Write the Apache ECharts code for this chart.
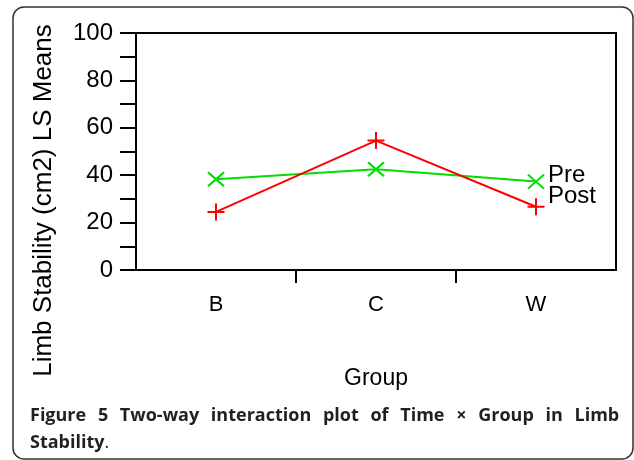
<!DOCTYPE html>
<html>
<head>
<meta charset="utf-8">
<script src="https://cdn.jsdelivr.net/npm/echarts@6/dist/echarts.min.js"></script>
<style>
  html, body { margin: 0; padding: 0; background: #fff; }
  #chart { width: 634px; height: 460px; }
</style>
</head>
<body>
<div id="chart"></div>
<script>
  // values
  const groups = ['B', 'C', 'W'];
  const preMeans = [38.3, 42.5, 37.3];
  const postMeans = [24.5, 54.6, 26.7];
  const yTicks = [0, 20, 40, 60, 80, 100];
  const groupBounds = [1, 2]; // tick marks between groups

  const axisFont = 'Liberation Sans, Arial, sans-serif';
  const plusSymbol = 'path://M5,0L5,10M0,5L10,5';
  const crossSymbol = 'path://M0,0L10,10M10,0L0,10';

  // caption, first line is justified in the source so each word gets a little extra room
  const captionWords = ['Figure', '5', 'Two-way', 'interaction', 'plot', 'of', 'Time', '×', 'Group', 'in', 'Limb'];
  const captionLine1 = captionWords.map((w, i) => (i < captionWords.length - 1 ? '{g|' : '{b|') + w + '}').join(' ');

  const capStyle = { fontFamily: 'Open Sans', fontWeight: 'bold', fontSize: 18, color: '#231f20', lineHeight: 27 };

  const chart = echarts.init(document.getElementById('chart'));
  chart.setOption({
    animation: false,
    backgroundColor: '#fff',
    title: {
      left: 30,
      top: 402,
      padding: 0,
      text: captionLine1 + '\n{b|Stability}{n|.}',
      textStyle: {
        rich: {
          b: capStyle,
          g: Object.assign({}, capStyle, { padding: [0, 6.7, 0, 0] }),
          n: Object.assign({}, capStyle, { fontWeight: 'normal' })
        }
      }
    },
    graphic: [{
      type: 'rect',
      silent: true,
      shape: { x: 13, y: 7, width: 620, height: 452, r: 11 },
      style: { fill: 'none', stroke: '#333', lineWidth: 1.5 }
    }],
    grid: {
      left: 136,
      right: 18,
      top: 33,
      bottom: 190,
      show: true,
      borderColor: '#000',
      borderWidth: 2,
      backgroundColor: 'transparent'
    },
    xAxis: [{
      type: 'category',
      data: groups,
      position: 'bottom',
      boundaryGap: true,
      axisLine: { lineStyle: { color: '#000', width: 2 } },
      axisTick: { show: false },
      axisLabel: { margin: 24, fontFamily: axisFont, fontSize: 22, color: '#000' },
      name: 'Group',
      nameLocation: 'middle',
      nameGap: 97,
      nameTextStyle: { fontFamily: axisFont, fontSize: 23, color: '#000' }
    }, {
      type: 'value',
      min: 0,
      max: groups.length,
      position: 'bottom',
      axisLine: { show: false },
      axisLabel: { show: false },
      splitLine: { show: false },
      axisTick: {
        show: true,
        customValues: groupBounds,
        length: 13,
        lineStyle: { color: '#000', width: 2 }
      }
    }],
    yAxis: {
      type: 'value',
      min: 0,
      max: 100,
      interval: 20,
      axisLine: { show: true, lineStyle: { color: '#000', width: 2 } },
      axisTick: { show: true, length: 16, lineStyle: { color: '#000', width: 2 } },
      minorTick: { show: true, splitNumber: 2, length: 16, lineStyle: { color: '#000', width: 2 } },
      splitLine: { show: false },
      axisLabel: {
        margin: 23,
        fontFamily: axisFont,
        fontSize: 24,
        color: '#000',
        customValues: yTicks
      },
      name: 'Limb Stability (cm2) LS Means',
      nameLocation: 'middle',
      nameGap: 79,
      nameTextStyle: {
        fontFamily: axisFont,
        fontSize: 26,
        color: '#000',
        padding: [0, 98, 0, 0]
      }
    },
    series: [{
      name: 'Pre',
      type: 'line',
      data: preMeans,
      symbol: crossSymbol,
      symbolSize: [16, 14],
      lineStyle: { color: '#00dd00', width: 2 },
      itemStyle: { color: 'transparent', borderColor: '#00dd00', borderWidth: 2 },
      endLabel: {
        show: true,
        formatter: 'Pre',
        distance: 12,
        offset: [0, -6],
        fontFamily: axisFont,
        fontSize: 24,
        color: '#000'
      },
      silent: true
    }, {
      name: 'Post',
      type: 'line',
      data: postMeans,
      symbol: plusSymbol,
      symbolSize: 17,
      lineStyle: { color: '#ff0000', width: 2 },
      itemStyle: { color: 'transparent', borderColor: '#ff0000', borderWidth: 2 },
      endLabel: {
        show: true,
        formatter: 'Post',
        distance: 12,
        offset: [0, -10],
        fontFamily: axisFont,
        fontSize: 24,
        color: '#000'
      },
      silent: true
    }]
  });
</script>
</body>
</html>
